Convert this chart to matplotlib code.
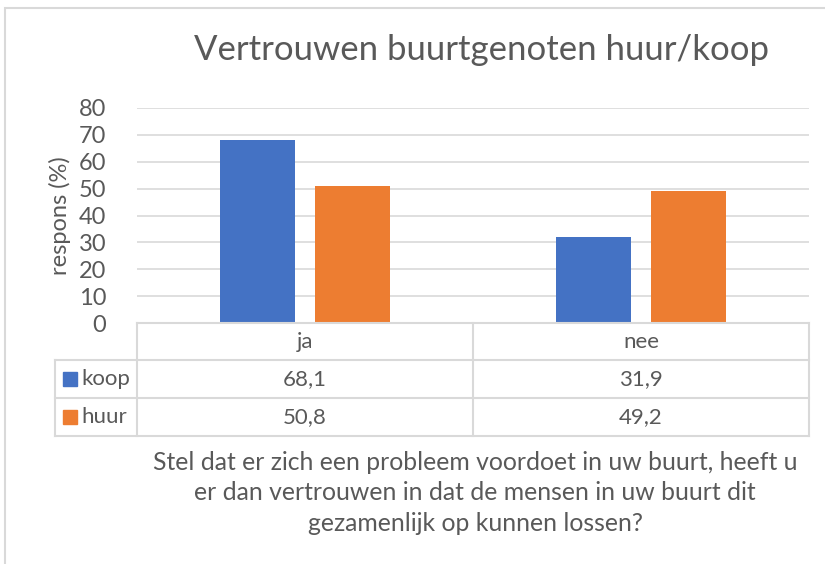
import matplotlib
matplotlib.use("Agg")
import matplotlib.pyplot as plt
from matplotlib.patches import Rectangle
from matplotlib.lines import Line2D

categories = ["ja", "nee"]
series_names = ["koop", "huur"]
koop = [68.1, 31.9]
huur = [50.8, 49.2]
value_labels = [["68,1", "31,9"], ["50,8", "49,2"]]
yticks = [0, 10, 20, 30, 40, 50, 60, 70, 80]
colors = ["#4472C4", "#ED7D31"]
title = "Vertrouwen buurtgenoten huur/koop"
ylabel = "respons (%)"
xlabel = ("Stel dat er zich een probleem voordoet in uw buurt, heeft u\n"
          "er dan vertrouwen in dat de mensen in uw buurt dit\n"
          "gezamenlijk op kunnen lossen?")

W, H = 825, 564
plt.rcParams['font.family'] = ['Lato', 'DejaVu Sans']
fig = plt.figure(figsize=(W / 100, H / 100), dpi=100)
fig.patch.set_facecolor("white")

def fx(x):
    return x / W

def fy(y):
    return 1 - y / H

TXT = "#595959"
GRID = "#D9D9D9"

# chart border
fig.add_artist(Rectangle((fx(5), fy(570)), fx(840) - fx(5), fy(8) - fy(570),
                         transform=fig.transFigure, fill=False, edgecolor=GRID, lw=1.5))

L, R, T, B = 137, 809, 108, 323
ax = fig.add_axes([fx(L), fy(B), fx(R) - fx(L), fy(T) - fy(B)])
ax.set_xlim(-0.5, 1.5)
ax.set_ylim(0, 80)
for s in ax.spines.values():
    s.set_visible(False)
ax.set_yticks(yticks)
ax.set_yticklabels([str(t) for t in yticks], fontsize=17, color=TXT)
ax.tick_params(axis='y', length=0, pad=22)
ax.set_xticks([])
ax.grid(axis='y', color=GRID, lw=1.2)
ax.set_axisbelow(True)

bw = 0.223
off = 0.1415
xs = list(range(len(categories)))
ax.bar([x - off for x in xs], koop, width=bw, color=colors[0], zorder=3)
ax.bar([x + off for x in xs], huur, width=bw, color=colors[1], zorder=3)

# y label
fig.text(fx(60), fy(216), ylabel, fontsize=17, color=TXT, rotation=90,
         ha='center', va='center')

# title
fig.text(fx(481), fy(50), title, fontsize=25, color=TXT, ha='center', va='center')

# data table
def hline(y, x0, x1):
    fig.add_artist(Line2D([fx(x0), fx(x1)], [fy(y), fy(y)], transform=fig.transFigure,
                          color=GRID, lw=1.5))

def vline(x, y0, y1):
    fig.add_artist(Line2D([fx(x), fx(x)], [fy(y0), fy(y1)], transform=fig.transFigure,
                          color=GRID, lw=1.5))

rows = [323, 360, 398, 436]
hline(rows[0], L, R)
for y in rows[1:]:
    hline(y, 55, R)
vline(55, rows[1], rows[3])
vline(L, rows[0], rows[3])
mid = (L + R) / 2
vline(mid, rows[0], rows[3])
vline(R, rows[0], rows[3])

col_centers = [(L + mid) / 2, (mid + R) / 2]
for i, c in enumerate(categories):
    fig.text(fx(col_centers[i]), fy((rows[0] + rows[1]) / 2), c, fontsize=16,
             color=TXT, ha='center', va='center')
for r in range(2):
    yc = (rows[r + 1] + rows[r + 2]) / 2
    fig.add_artist(Rectangle((fx(63), fy(yc + 7)), fx(14), fy(0) - fy(14),
                             transform=fig.transFigure, color=colors[r]))
    fig.text(fx(81), fy(yc), series_names[r], fontsize=16, color=TXT,
             ha='left', va='center')
    for i in range(2):
        fig.text(fx(col_centers[i]), fy(yc), value_labels[r][i], fontsize=16,
                 color=TXT, ha='center', va='center')

fig.text(fx(475), fy(493), xlabel, fontsize=17.8, color=TXT, ha='center',
         va='center', linespacing=1.42)

fig.savefig("out.png", dpi=100)
